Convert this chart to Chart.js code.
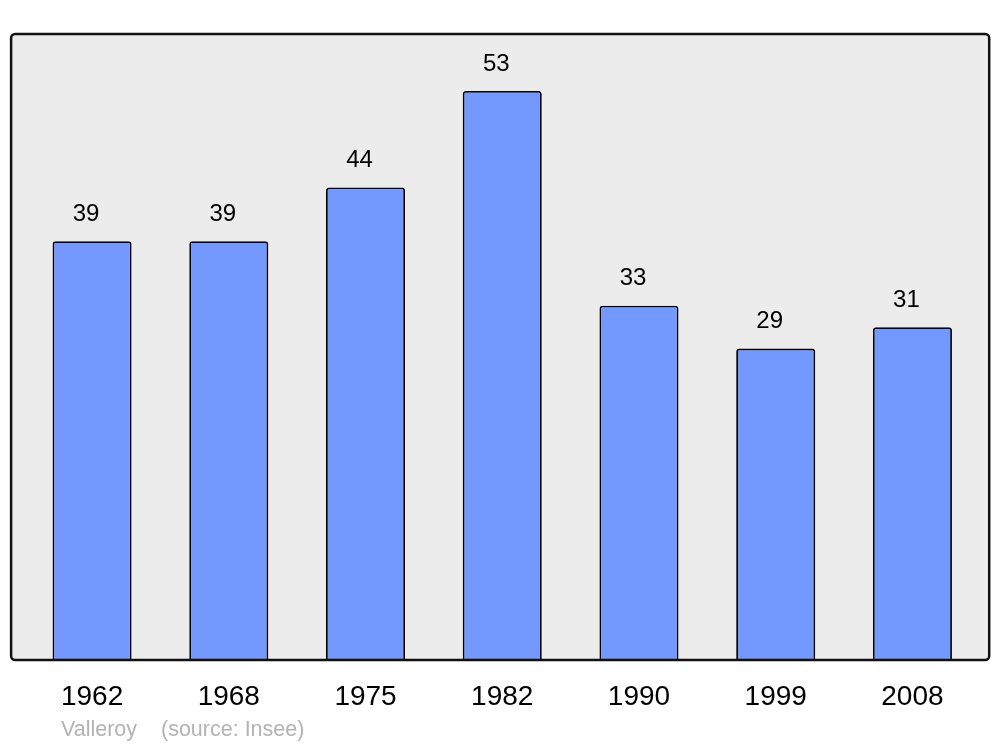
<!DOCTYPE html>
<html>
<head>
<meta charset="utf-8">
<script src="https://cdn.jsdelivr.net/npm/chart.js@4"></script>
<style>
  html, body { margin: 0; padding: 0; background: #fff; }
  #wrap { width: 1000px; height: 747px; }
</style>
</head>
<body>
<div id="wrap"><canvas id="popChart" width="1000" height="747"></canvas></div>
<script>
// Data for the chart
const years = ['1962', '1968', '1975', '1982', '1990', '1999', '2008'];
const population = [39, 39, 44, 53, 33, 29, 31];
const yMax = 58.3;

const FONT = '"Liberation Sans", Arial, sans-serif';

// Grey panel behind the bars, with footer text
const panelPlugin = {
    id: 'panel',
    beforeDraw(chart) {
        const { ctx, chartArea } = chart;
        const x = chartArea.left - 12.6, y = chartArea.top;
        const w = (chartArea.right + 8.4) - x, h = chartArea.bottom - y;
        ctx.save();
        ctx.beginPath();
        ctx.roundRect(x, y, w, h, 4);
        ctx.fillStyle = '#ececec';
        ctx.fill();
        ctx.restore();
    },
    afterDraw(chart) {
        const { ctx, chartArea } = chart;
        const x = chartArea.left - 12.6, y = chartArea.top;
        const w = (chartArea.right + 8.4) - x, h = chartArea.bottom - y;
        ctx.save();
        ctx.beginPath();
        ctx.roundRect(x, y, w, h, 4);
        ctx.lineWidth = 2.5;
        ctx.strokeStyle = '#111';
        ctx.stroke();
        // footer
        ctx.fillStyle = '#b3b3b3';
        ctx.font = '21.5px ' + FONT;
        ctx.textBaseline = 'middle';
        ctx.textAlign = 'left';
        ctx.fillText('Valleroy', 61, 730);
        ctx.fillText('(source: Insee)', 161, 730);
        ctx.restore();
    }
};

// Value labels above each bar
const valuePlugin = {
    id: 'values',
    afterDatasetsDraw(chart) {
        const { ctx } = chart;
        const meta = chart.getDatasetMeta(0);
        ctx.save();
        ctx.fillStyle = '#000';
        ctx.font = '24px ' + FONT;
        ctx.textAlign = 'center';
        ctx.textBaseline = 'middle';
        meta.data.forEach((bar, i) => {
            ctx.fillText(String(population[i]), bar.x - 6, bar.y - 27);
        });
        ctx.restore();
    }
};

document.addEventListener('DOMContentLoaded', () => {
    const ctx = document.getElementById('popChart').getContext('2d');
    new Chart(ctx, {
        type: 'bar',
        data: {
            labels: years,
            datasets: [{
                data: population,
                backgroundColor: '#7399ff',
                borderColor: '#000',
                borderWidth: 1.8,
                borderRadius: { topLeft: 3, topRight: 3 },
                borderSkipped: 'bottom',
                barPercentage: 0.578,
                categoryPercentage: 1
            }]
        },
        options: {
            responsive: false,
            animation: false,
            layout: { padding: { left: 23.7, right: 19.2, top: 34, bottom: 0 } },
            plugins: {
                legend: { display: false },
                tooltip: { enabled: false }
            },
            scales: {
                y: {
                    display: false,
                    min: 0,
                    max: yMax
                },
                x: {
                    grid: { display: false },
                    border: { display: false },
                    ticks: {
                        color: '#000',
                        font: { family: FONT, size: 28 },
                        padding: 12,
                        maxRotation: 0
                    },
                    afterFit(scale) { scale.height = 87; }
                }
            }
        },
        plugins: [panelPlugin, valuePlugin]
    });
});
</script>
</body>
</html>
